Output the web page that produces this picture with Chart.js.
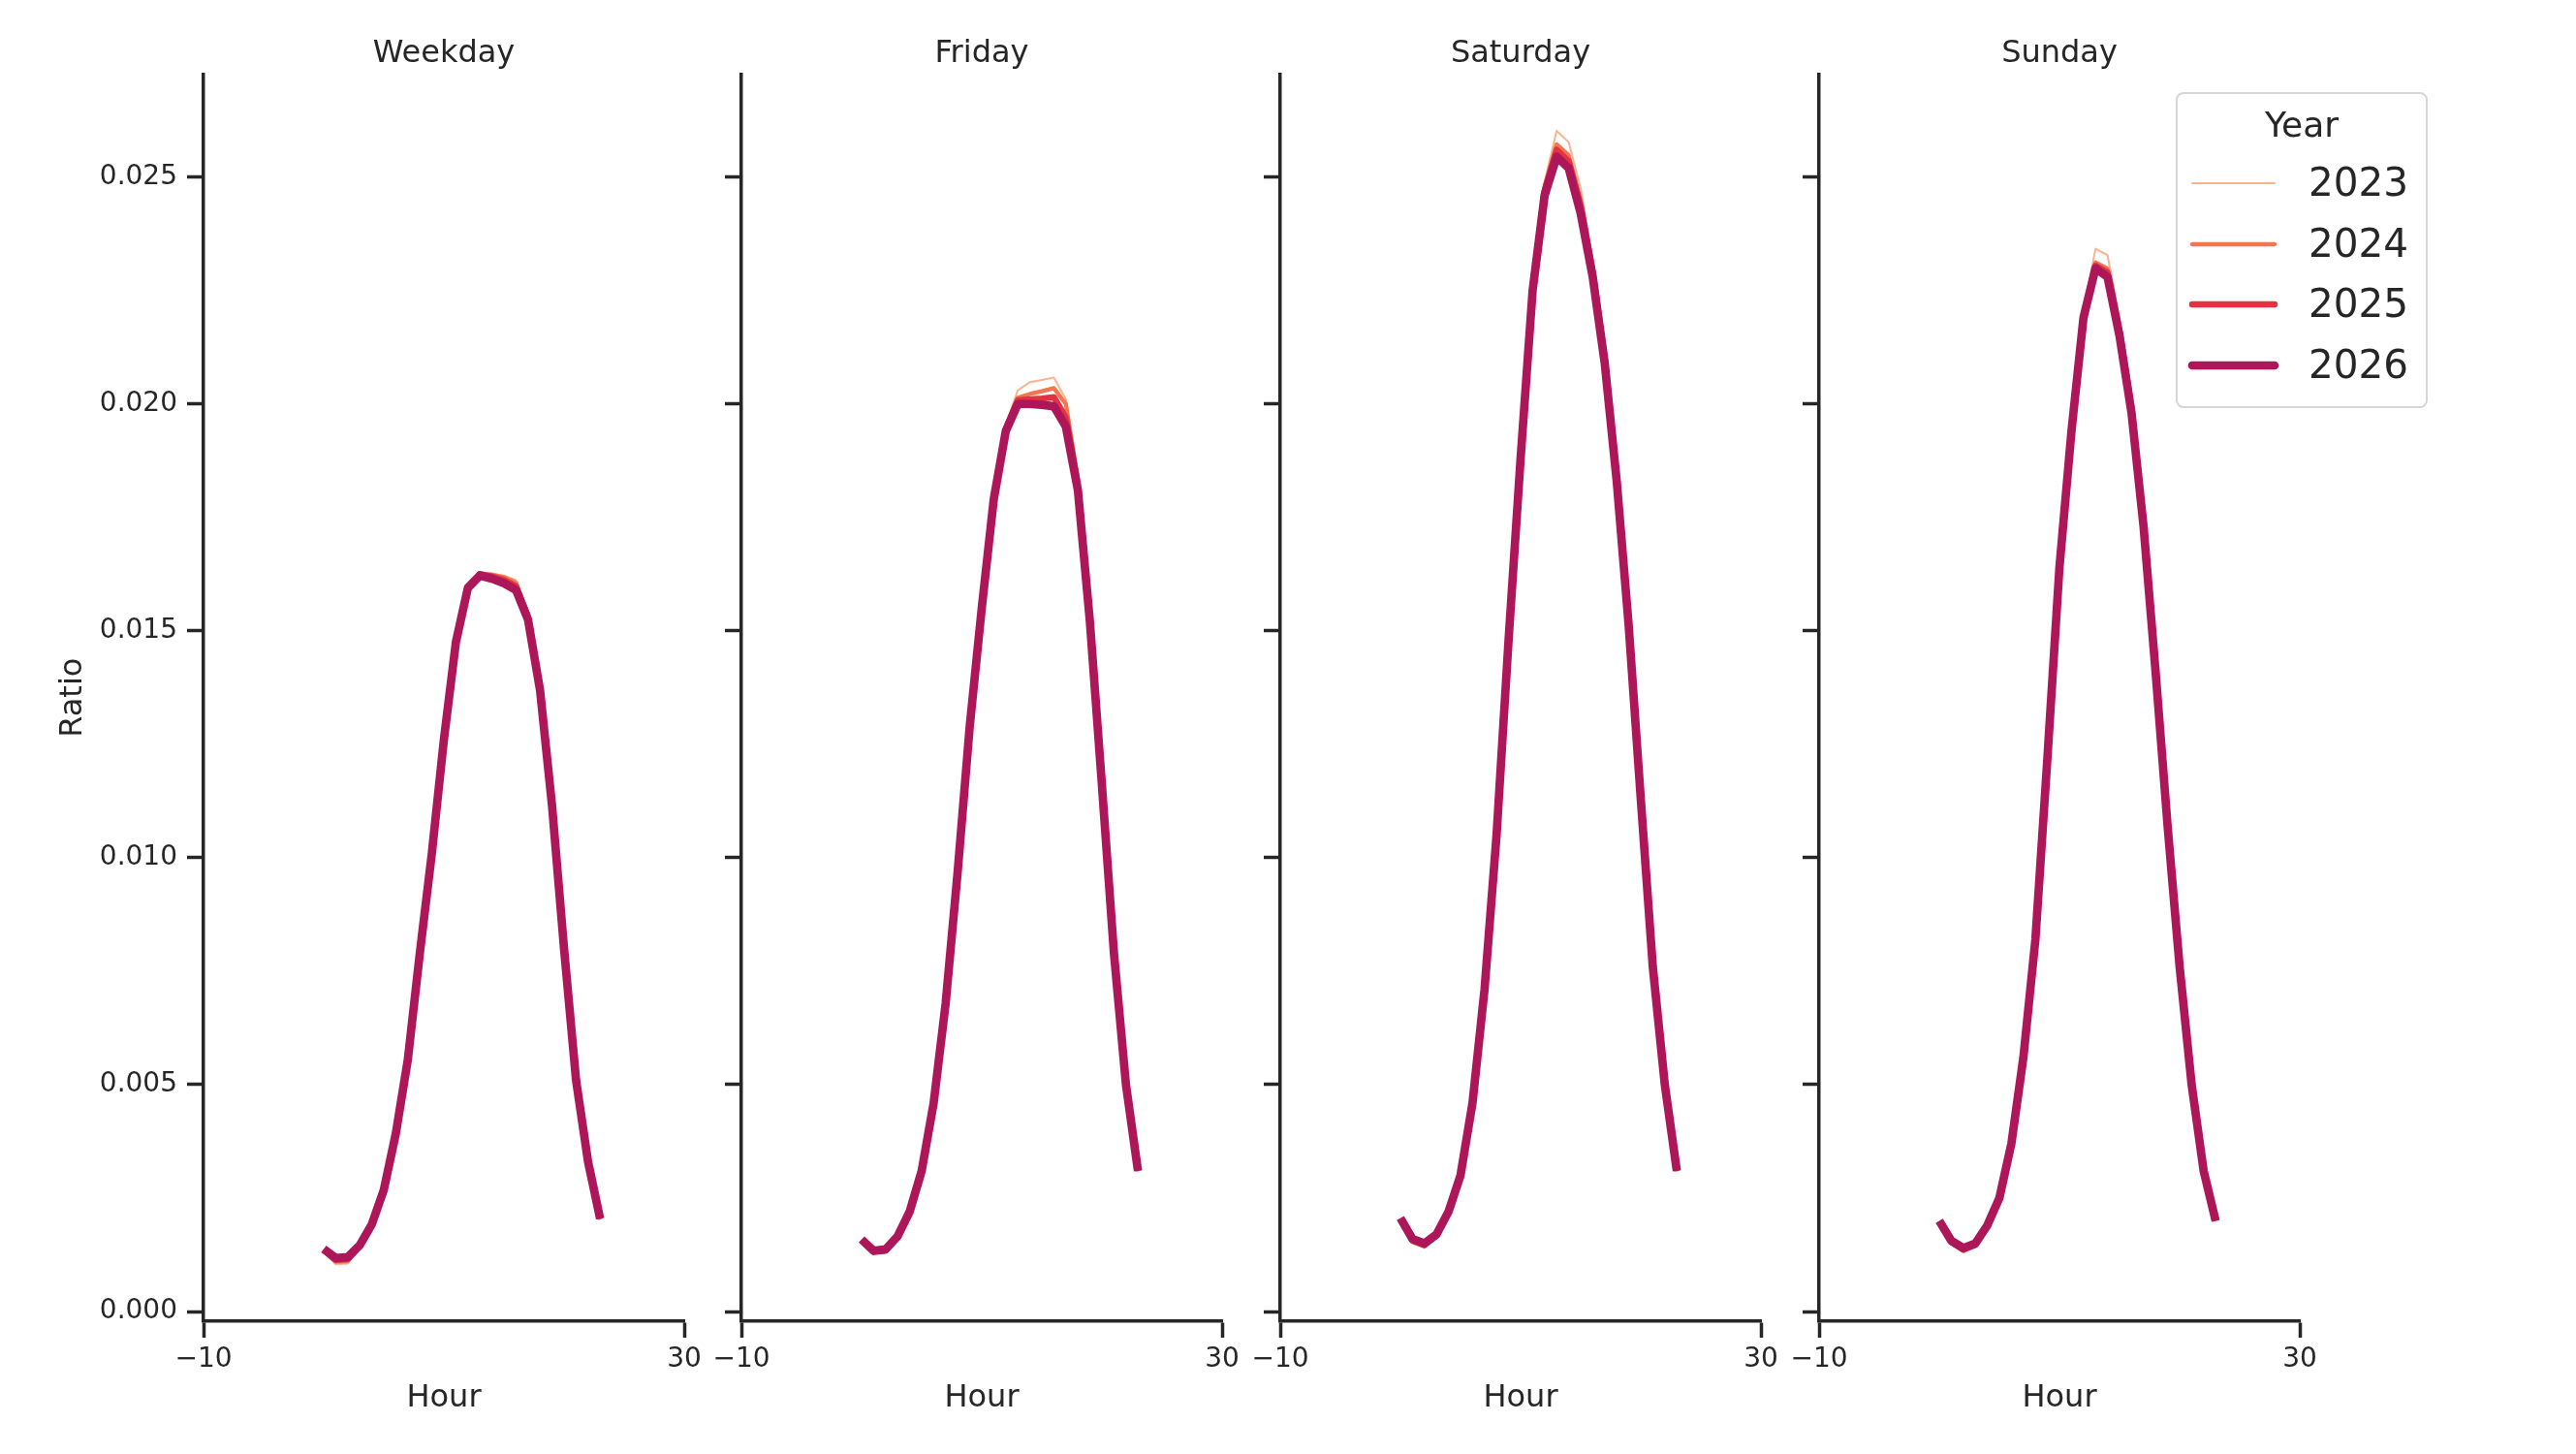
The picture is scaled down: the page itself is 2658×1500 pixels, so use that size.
<!DOCTYPE html>
<html>
<head>
<meta charset="utf-8">
<title>Hourly ratio by day type</title>
<script src="https://cdn.jsdelivr.net/npm/chart.js@4.4.1/dist/chart.umd.min.js"></script>
<style>
  html, body { margin: 0; padding: 0; background: #fff; }
  body { width: 2658px; height: 1500px; position: relative; overflow: hidden; }
  .panel { position: absolute; top: 0; height: 1500px; }
</style>
</head>
<body>
<div class="panel" id="p0"><canvas id="c0"></canvas></div>
<div class="panel" id="p1"><canvas id="c1"></canvas></div>
<div class="panel" id="p2"><canvas id="c2"></canvas></div>
<div class="panel" id="p3"><canvas id="c3"></canvas></div>
<script>
// ---- data ----
const hours = [0, 1, 2, 3, 4, 5, 6, 7, 8, 9, 10, 11, 12, 13, 14, 15, 16, 17, 18, 19, 20, 21, 22, 23];
const years = ['2023', '2024', '2025', '2026'];
const dayNames = ['Weekday', 'Friday', 'Saturday', 'Sunday'];
const xTicks = [-10, 30];
const yTicks = [0, 0.005, 0.010, 0.015, 0.020, 0.025];

const weekday2023 = [0.00132, 0.00104, 0.00106, 0.00140, 0.00186, 0.00262, 0.00386, 0.00549, 0.00784, 0.01003, 0.01253, 0.01470, 0.01596, 0.01624, 0.01626, 0.01622, 0.01612, 0.01545, 0.01380, 0.01120, 0.00804, 0.00512, 0.00331, 0.00202];
const weekday2024 = [0.00134, 0.00110, 0.00111, 0.00142, 0.00188, 0.00264, 0.00388, 0.00551, 0.00786, 0.01005, 0.01255, 0.01472, 0.01597, 0.01625, 0.01624, 0.01618, 0.01606, 0.01538, 0.01376, 0.01118, 0.00802, 0.00511, 0.00330, 0.00203];
const weekday2025 = [0.00136, 0.00114, 0.00116, 0.00144, 0.00190, 0.00266, 0.00390, 0.00553, 0.00788, 0.01008, 0.01258, 0.01475, 0.01597, 0.01625, 0.01620, 0.01612, 0.01598, 0.01530, 0.01372, 0.01115, 0.00800, 0.00510, 0.00330, 0.00204];
const weekday2026 = [0.00138, 0.00118, 0.00120, 0.00146, 0.00192, 0.00268, 0.00392, 0.00555, 0.00790, 0.01010, 0.01260, 0.01475, 0.01595, 0.01622, 0.01615, 0.01605, 0.01590, 0.01525, 0.01370, 0.01115, 0.00800, 0.00510, 0.00330, 0.00205];

const friday2023 = [0.00155, 0.00126, 0.00129, 0.00160, 0.00215, 0.00305, 0.00455, 0.00675, 0.00965, 0.01285, 0.01550, 0.01795, 0.01955, 0.02030, 0.02048, 0.02053, 0.02058, 0.02010, 0.01845, 0.01535, 0.01165, 0.00792, 0.00500, 0.00308];
const friday2024 = [0.00157, 0.00130, 0.00133, 0.00163, 0.00218, 0.00308, 0.00458, 0.00678, 0.00968, 0.01288, 0.01550, 0.01793, 0.01950, 0.02014, 0.02022, 0.02028, 0.02035, 0.02000, 0.01835, 0.01530, 0.01162, 0.00791, 0.00500, 0.00309];
const friday2025 = [0.00158, 0.00132, 0.00135, 0.00165, 0.00219, 0.00309, 0.00459, 0.00679, 0.00969, 0.01289, 0.01550, 0.01791, 0.01945, 0.02008, 0.02010, 0.02012, 0.02015, 0.01970, 0.01820, 0.01525, 0.01160, 0.00790, 0.00500, 0.00310];
const friday2026 = [0.00159, 0.00134, 0.00137, 0.00166, 0.00220, 0.00310, 0.00460, 0.00680, 0.00970, 0.01290, 0.01550, 0.01790, 0.01940, 0.02000, 0.02000, 0.01998, 0.01995, 0.01950, 0.01810, 0.01520, 0.01160, 0.00790, 0.00500, 0.00310];

const saturday2023 = [0.00200, 0.00150, 0.00140, 0.00165, 0.00215, 0.00295, 0.00455, 0.00705, 0.01045, 0.01478, 0.01885, 0.02262, 0.02490, 0.02602, 0.02577, 0.02475, 0.02320, 0.02125, 0.01850, 0.01520, 0.01135, 0.00762, 0.00500, 0.00308];
const saturday2024 = [0.00202, 0.00154, 0.00144, 0.00167, 0.00217, 0.00297, 0.00457, 0.00707, 0.01047, 0.01479, 0.01883, 0.02258, 0.02480, 0.02572, 0.02548, 0.02450, 0.02300, 0.02110, 0.01842, 0.01516, 0.01133, 0.00761, 0.00500, 0.00309];
const saturday2025 = [0.00204, 0.00157, 0.00147, 0.00168, 0.00219, 0.00299, 0.00459, 0.00709, 0.01049, 0.01480, 0.01881, 0.02254, 0.02470, 0.02560, 0.02535, 0.02435, 0.02290, 0.02100, 0.01836, 0.01513, 0.01131, 0.00760, 0.00500, 0.00310];
const saturday2026 = [0.00206, 0.00160, 0.00150, 0.00170, 0.00220, 0.00300, 0.00460, 0.00710, 0.01050, 0.01480, 0.01880, 0.02250, 0.02460, 0.02545, 0.02520, 0.02420, 0.02280, 0.02090, 0.01830, 0.01510, 0.01130, 0.00760, 0.00500, 0.00310];

const sunday2023 = [0.00196, 0.00148, 0.00130, 0.00142, 0.00184, 0.00245, 0.00365, 0.00555, 0.00815, 0.01218, 0.01645, 0.01955, 0.02205, 0.02342, 0.02328, 0.02190, 0.02015, 0.01745, 0.01420, 0.01075, 0.00762, 0.00502, 0.00311, 0.00199];
const sunday2024 = [0.00197, 0.00151, 0.00134, 0.00145, 0.00186, 0.00247, 0.00367, 0.00557, 0.00817, 0.01219, 0.01643, 0.01948, 0.02200, 0.02312, 0.02298, 0.02170, 0.02000, 0.01738, 0.01415, 0.01072, 0.00761, 0.00501, 0.00310, 0.00200];
const sunday2025 = [0.00199, 0.00154, 0.00137, 0.00148, 0.00188, 0.00249, 0.00369, 0.00559, 0.00819, 0.01220, 0.01641, 0.01944, 0.02195, 0.02305, 0.02290, 0.02160, 0.01990, 0.01734, 0.01412, 0.01071, 0.00760, 0.00500, 0.00310, 0.00200];
const sunday2026 = [0.00200, 0.00156, 0.00140, 0.00150, 0.00190, 0.00250, 0.00370, 0.00560, 0.00820, 0.01220, 0.01640, 0.01940, 0.02190, 0.02299, 0.02280, 0.02150, 0.01980, 0.01730, 0.01410, 0.01070, 0.00760, 0.00500, 0.00310, 0.00200];

const seriesByDay = [
  [weekday2023, weekday2024, weekday2025, weekday2026],
  [friday2023, friday2024, friday2025, friday2026],
  [saturday2023, saturday2024, saturday2025, saturday2026],
  [sunday2023, sunday2024, sunday2025, sunday2026]
];

// ---- styles / layout ----
const FONT = "'DejaVu Sans', 'Liberation Sans', sans-serif";
const INK = '#262626';
const yearColors = ['#f6b48f', '#f37651', '#e13342', '#ad1759'];
const yearWidths = [2, 4.3, 6.5, 8.7];
const plotLefts = [210, 765, 1321, 1877];
const plotW = 496;
const sidePad = [210, 60, 60, 285];   // same room left and right so the title centres on the plot

Chart.defaults.font.family = FONT;
Chart.defaults.color = INK;

function fmtX(v) {
  return v < 0 ? '\u2212' + Math.abs(v) : String(v);
}

// legend drawn inside the last panel (matplotlib style, with a title)
const yearLegend = {
  id: 'yearLegend',
  afterDraw(chart) {
    const ctx = chart.ctx;
    const bx = 654, by = 96, bw = 258, bh = 324;
    ctx.save();
    ctx.beginPath();
    if (ctx.roundRect) ctx.roundRect(bx, by, bw, bh, 7); else ctx.rect(bx, by, bw, bh);
    ctx.fillStyle = 'rgba(255,255,255,0.8)';
    ctx.fill();
    ctx.lineWidth = 2;
    ctx.strokeStyle = '#d6d6d6';
    ctx.stroke();

    ctx.fillStyle = INK;
    ctx.textBaseline = 'middle';
    ctx.textAlign = 'center';
    ctx.font = '36px ' + FONT;
    ctx.fillText('Year', 783, 132);

    ctx.textAlign = 'left';
    ctx.font = '40.5px ' + FONT;
    ctx.lineCap = 'round';
    const rows = [189, 252, 314, 377];
    years.forEach((yr, j) => {
      ctx.beginPath();
      ctx.moveTo(670, rows[j]);
      ctx.lineTo(755, rows[j]);
      ctx.strokeStyle = yearColors[j];
      ctx.lineWidth = yearWidths[j];
      ctx.stroke();
      ctx.fillText(yr, 790, rows[j] + 2);
    });
    ctx.restore();
  }
};

dayNames.forEach((day, i) => {
  const pad = sidePad[i];
  const box = document.getElementById('p' + i);
  box.style.left = (plotLefts[i] - pad) + 'px';
  box.style.width = (plotW + 2 * pad) + 'px';

  const datasets = years.map((yr, j) => ({
    label: yr,
    data: hours.map((h, k) => ({ x: h, y: seriesByDay[i][j][k] })),
    borderColor: yearColors[j],
    backgroundColor: yearColors[j],
    borderWidth: yearWidths[j],
    borderJoinStyle: 'round',
    borderCapStyle: 'butt',
    pointRadius: 0,
    fill: false,
    tension: 0,
    order: years.length - 1 - j
  }));

  new Chart(document.getElementById('c' + i), {
    type: 'line',
    data: { datasets: datasets },
    options: {
      responsive: true,
      maintainAspectRatio: false,
      animation: false,
      events: [],
      layout: { padding: 0 },
      plugins: {
        legend: { display: false },
        tooltip: { enabled: false },
        title: {
          display: true,
          text: day,
          color: INK,
          font: { size: 32, weight: 'normal' },
          padding: { top: 36, bottom: 2 }
        }
      },
      scales: {
        x: {
          type: 'linear',
          position: 'bottom',
          min: -10,
          max: 30,
          afterBuildTicks: s => { s.ticks = xTicks.map(v => ({ value: v })); },
          afterFit: s => { s.height = 137; },
          ticks: { callback: fmtX, font: { size: 28 }, color: INK, padding: 6, maxRotation: 0, autoSkip: false },
          grid: { display: true, drawOnChartArea: false, drawTicks: true, tickLength: 17, tickWidth: 3.5, tickColor: INK },
          border: { display: true, color: INK, width: 3.5 },
          title: { display: true, text: 'Hour', color: INK, font: { size: 32 }, padding: { top: 0, bottom: 38 } }
        },
        y: {
          type: 'linear',
          position: 'left',
          min: -0.000213,
          max: 0.02727,
          afterBuildTicks: s => { s.ticks = yTicks.map(v => ({ value: v })); },
          afterFit: s => { s.width = pad; },
          ticks: { display: i === 0, callback: v => v.toFixed(3), font: { size: 28 }, color: INK, padding: 10 },
          grid: { display: true, drawOnChartArea: false, drawTicks: true, tickLength: 17, tickWidth: 3.5, tickColor: INK },
          border: { display: true, color: INK, width: 3.5 },
          title: { display: i === 0, text: 'Ratio', color: INK, font: { size: 32 }, padding: { top: 56, bottom: 0 } }
        },
        spacer: {
          type: 'linear',
          position: 'right',
          display: true,
          afterFit: s => { s.width = pad; },
          ticks: { display: false },
          grid: { display: false },
          border: { display: false }
        }
      }
    },
    plugins: i === 3 ? [yearLegend] : []
  });
});
</script>
</body>
</html>
